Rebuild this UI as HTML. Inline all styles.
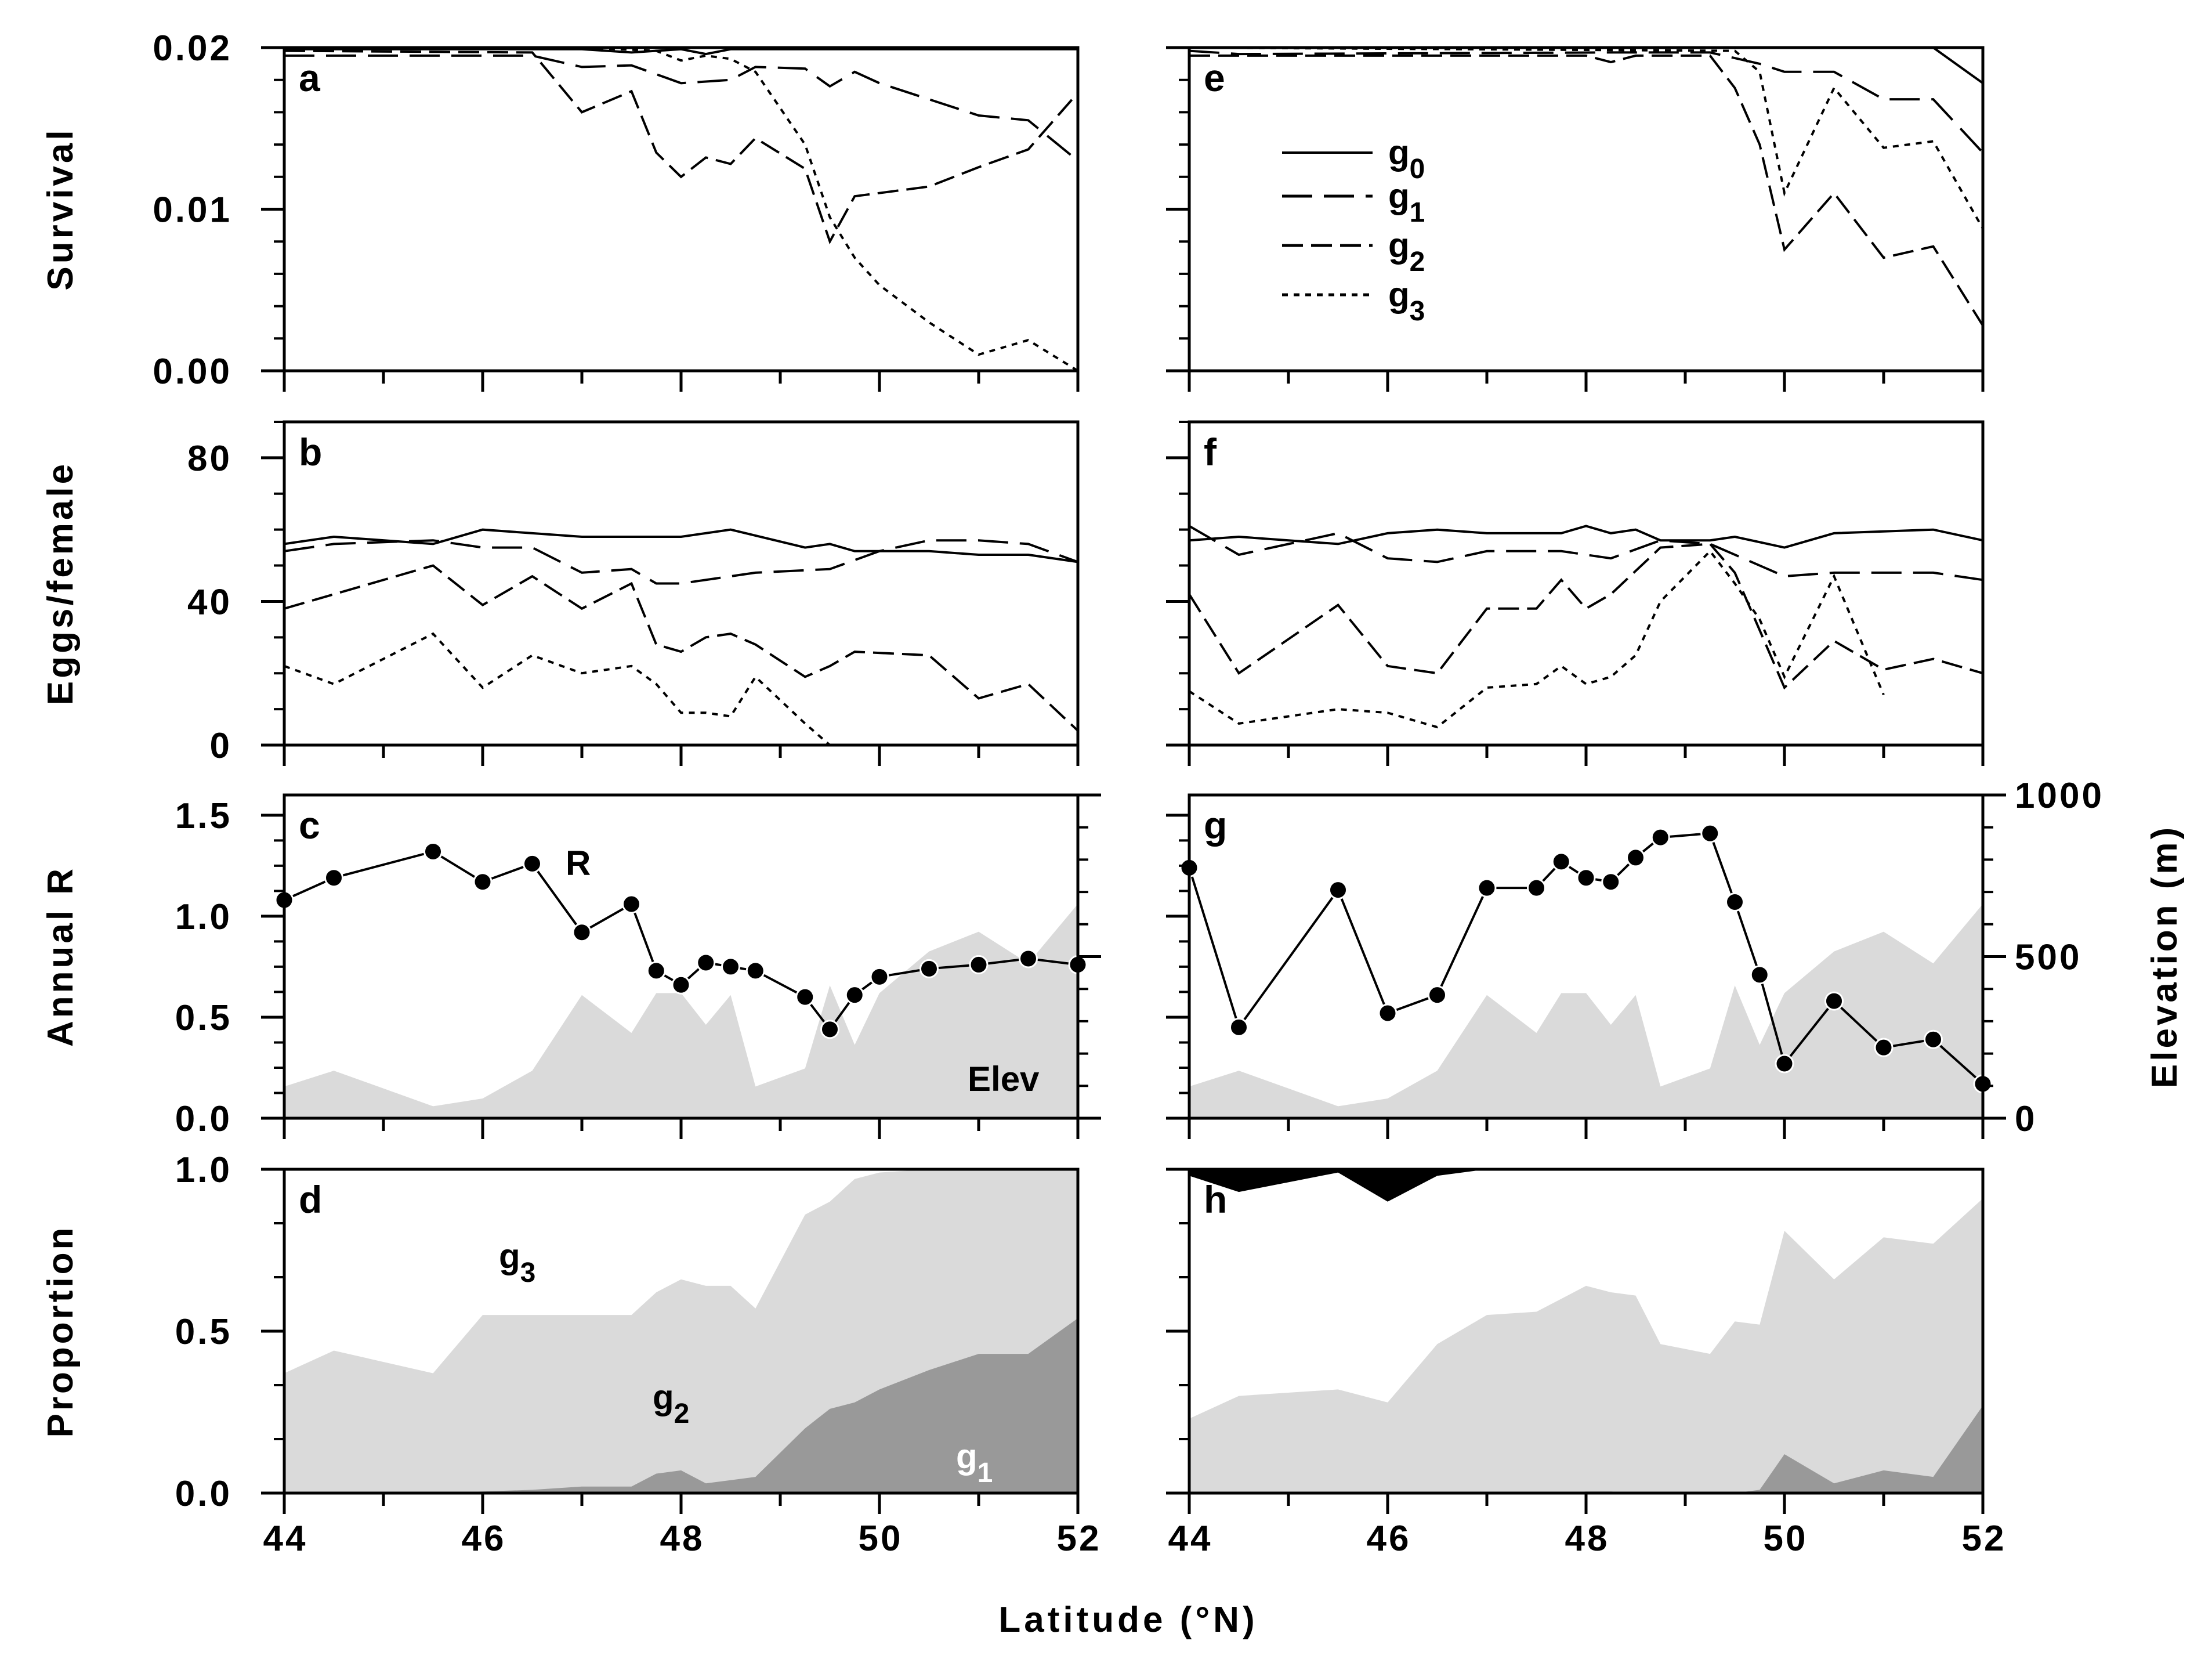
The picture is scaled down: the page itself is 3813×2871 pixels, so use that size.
<!DOCTYPE html>
<html><head><meta charset="utf-8">
<style>
html,body{margin:0;padding:0;background:#fff;}
svg{display:block;font-family:"Liberation Sans",Arial,sans-serif;}
text{font-weight:bold;fill:#000;}
</style></head>
<body>
<svg id="chart" width="3813" height="2871" viewBox="0 0 3813 2871" xmlns="http://www.w3.org/2000/svg">
<rect x="0" y="0" width="3813" height="2871" fill="#fff"/>
<g id="layer"></g>
<text x="1945" y="2812" font-size="62" text-anchor="middle" letter-spacing="6">Latitude (°N)</text>
<text transform="translate(125,360) rotate(-90)" font-size="62" text-anchor="middle" letter-spacing="5">Survival</text>
<text transform="translate(125,1005) rotate(-90)" font-size="62" text-anchor="middle" letter-spacing="5">Eggs/female</text>
<text transform="translate(125,1648) rotate(-90)" font-size="62" text-anchor="middle" letter-spacing="5">Annual R</text>
<text transform="translate(125,2294) rotate(-90)" font-size="62" text-anchor="middle" letter-spacing="5">Proportion</text>
<text transform="translate(3752,1648) rotate(-90)" font-size="62" text-anchor="middle" letter-spacing="5">Elevation (m)</text>
</svg>
<script>
// ---- data ----
const latR = [44,44.5,45.5,46,46.5,47,47.5,47.75,48,48.25,48.5,48.75,49.25,49.5,49.75,50,50.5,51,51.5,52];
const rLeft = [1.08,1.19,1.32,1.17,1.26,0.92,1.06,0.73,0.66,0.77,0.75,0.73,0.60,0.44,0.61,0.70,0.74,0.76,0.79,0.76];
const rRight = [1.24,0.45,1.13,0.52,0.61,1.14,1.14,1.27,1.19,1.17,1.29,1.39,1.41,1.07,0.71,0.27,0.58,0.35,0.39,0.17];
const elevLat = [44,44.5,45.5,46,46.5,47,47.5,47.75,48,48.25,48.5,48.75,49.25,49.5,49.75,50,50.5,51,51.5,52];
const elevM = [98,147,37,61,147,381,264,387,387,289,381,98,154,411,227,387,516,577,479,663];

const survA_g0_lat=[44,47,47.5,48,48.25,48.5,52]; const survA_g0=[0.0199,0.0199,0.0197,0.0199,0.0196,0.0199,0.0199];
const survA_g1_lat=[44,46.5,47,47.5,48,48.5,48.75,49.25,49.5,49.75,50,51,51.5,52]; const survA_g1=[0.0195,0.0195,0.0188,0.0189,0.0178,0.0180,0.0188,0.0187,0.0176,0.0185,0.0178,0.0158,0.0155,0.0130];
const survA_g2_lat=[44,46.5,47,47.5,47.75,48,48.25,48.5,48.75,49.25,49.5,49.75,50.5,51,51.5,52]; const survA_g2=[0.0198,0.0197,0.0160,0.0173,0.0135,0.0120,0.0132,0.0128,0.0144,0.0125,0.0080,0.0108,0.0114,0.0126,0.0137,0.0172];
const survA_g3_lat=[44,47,47.75,48,48.25,48.5,48.75,49.25,49.5,49.75,50,50.5,51,51.5,52]; const survA_g3=[0.0200,0.0200,0.0198,0.0192,0.0195,0.0193,0.0185,0.0140,0.0095,0.0070,0.0053,0.0030,0.0010,0.0019,0.0000];

const survE_g0_lat=[44,51.5,52]; const survE_g0=[0.0200,0.0200,0.0178];
const survE_g1_lat=[44,44.5,48.25,49.25,49.75,50,50.5,51,51.5,52]; const survE_g1=[0.0198,0.0196,0.0197,0.0197,0.0190,0.0185,0.0185,0.0168,0.0168,0.0135];
const survE_g2_lat=[44,48,48.25,48.5,49.25,49.5,49.75,50,50.5,51,51.5,52]; const survE_g2=[0.0195,0.0195,0.0191,0.0195,0.0195,0.0175,0.0140,0.0075,0.0110,0.0070,0.0077,0.0028];
const survE_g3_lat=[44,49.5,49.75,50,50.5,51,51.5,52]; const survE_g3=[0.0200,0.0198,0.0185,0.0110,0.0175,0.0138,0.0142,0.0088];

const eggB_g0_lat=[44,44.5,45.5,46,46.5,47,48,48.5,49.25,49.5,49.75,50,50.5,51,51.5,52]; const eggB_g0=[56,58,56,60,59,58,58,60,55,56,54,54,54,53,53,51];
const eggB_g1_lat=[44,44.5,45.5,46,46.5,47,47.5,47.75,48,48.5,48.75,49.5,50,50.5,51,51.5,52]; const eggB_g1=[54,56,57,55,55,48,49,45,45,47,48,49,54,57,57,56,51];
const eggB_g2_lat=[44,44.5,45.5,46,46.5,47,47.5,47.75,48,48.25,48.5,48.75,49.25,49.5,49.75,50.5,51,51.5,52]; const eggB_g2=[38,42,50,39,47,38,45,28,26,30,31,28,19,22,26,25,13,17,4];
const eggB_g3_lat=[44,44.5,45.5,46,46.5,47,47.5,47.75,48,48.25,48.5,48.75,49.25,49.5]; const eggB_g3=[22,17,31,16,25,20,22,17,9,9,8,19,6,0];

const eggF_g0_lat=[44,44.5,45.5,46,46.5,47,47.75,48,48.25,48.5,48.75,49.25,49.5,50,50.5,51.5,52]; const eggF_g0=[57,58,56,59,60,59,59,61,59,60,57,57,58,55,59,60,57];
const eggF_g1_lat=[44,44.5,45.5,46,46.5,47,47.75,48.25,48.75,49.25,50,50.5,51,51.5,52]; const eggF_g1=[61,53,59,52,51,54,54,52,57,56,47,48,48,48,46];
const eggF_g2_lat=[44,44.5,45.5,46,46.5,47,47.5,47.75,48,48.25,48.75,49.25,49.5,50,50.5,51,51.5,52]; const eggF_g2=[42,20,39,22,20,38,38,46,38,42,55,56,48,16,29,21,24,20];
const eggF_g3_lat=[44,44.5,45.5,46,46.5,47,47.5,47.75,48,48.25,48.5,48.75,49.25,49.5,49.75,50,50.5,51]; const eggF_g3=[15,6,10,9,5,16,17,22,17,19,25,40,54,45,35,19,47,14];

const propLat=[44,44.5,45.5,46,46.5,47,47.5,47.75,48,48.25,48.5,48.75,49.25,49.5,49.75,50,50.5,51,51.5,52];
const propD_g1=[0,0,0,0.005,0.01,0.02,0.02,0.06,0.07,0.03,0.04,0.05,0.2,0.26,0.28,0.32,0.38,0.43,0.43,0.54];
const propD_g2=[0.37,0.44,0.37,0.55,0.55,0.55,0.55,0.62,0.66,0.64,0.64,0.57,0.86,0.9,0.97,0.99,1,1,1,1];
const propD_g3=[1,1,1,1,1,1,1,1,1,1,1,1,1,1,1,1,1,1,1,1];
const propH_g1=[0,0,0,0,0,0,0,0,0.005,0.005,0,0,0,0,0.01,0.12,0.03,0.07,0.05,0.27];
const propH_g2=[0.23,0.30,0.32,0.28,0.46,0.55,0.56,0.60,0.64,0.62,0.61,0.46,0.43,0.53,0.52,0.81,0.66,0.79,0.77,0.91];
const propH_g3=[0.98,0.93,0.99,0.90,0.98,1,1,1,1,1,1,1,1,1,1,1,1,1,1,1];

const xTicks=[44,46,48,50,52];
const survTicks=["0.00","0.01","0.02"], survTickVals=[0,0.01,0.02];
const eggTicks=["0","40","80"], eggTickVals=[0,40,80];
const rTicks=["0.0","0.5","1.0","1.5"], rTickVals=[0,0.5,1,1.5];
const elevTicks=["0","500","1000"], elevTickVals=[0,500,1000];
const propTicks=["0.0","0.5","1.0"], propTickVals=[0,0.5,1];

// ---- layout ----
const NS="http://www.w3.org/2000/svg";
const L=document.getElementById('layer');
const cols=[{x0:490,x1:1858},{x0:2050,x1:3418}];
const rows=[{t:82,b:639,max:0.02},{t:727,b:1284,max:90},{t:1370,b:1927,max:1.6},{t:2015,b:2573,max:1}];
function mk(tag,attrs,parent){const e=document.createElementNS(NS,tag);for(const k in attrs)e.setAttribute(k,attrs[k]);(parent||L).appendChild(e);return e;}
function xs(c,v){return cols[c].x0+(v-44)/8*(cols[c].x1-cols[c].x0);}
function ys(r,v,max){const R=rows[r];return R.b-v/(max||R.max)*(R.b-R.t);}
function pts(c,r,lat,vals,max){return lat.map((l,i)=>xs(c,l).toFixed(1)+','+ys(r,vals[i],max).toFixed(1)).join(' ');}

const dashes=[null,"52,20","36,14","10,10"];
function drawLines(c,r,sets,name){
  sets.forEach((s,i)=>{
    const p=mk('polyline',{points:pts(c,r,s[0],s[1]),fill:'none',stroke:'#000','stroke-width':4});
    if(dashes[i])p.setAttribute('stroke-dasharray',dashes[i]);
    
    
  });
}
function area(c,r,lat,lower,upper,fill,name){
  let d='';
  lat.forEach((l,i)=>{d+=(i?'L':'M')+xs(c,l).toFixed(1)+','+ys(r,upper[i]).toFixed(1);});
  for(let i=lat.length-1;i>=0;i--){d+='L'+xs(c,lat[i]).toFixed(1)+','+ys(r,lower?lower[i]:0).toFixed(1);}
  const p=mk('path',{d:d+'Z',fill:fill,stroke:'none'});
  
  
}
function frame(c,r,name){
  const R=rows[r],C=cols[c];
  const f=mk('rect',{x:C.x0,y:R.t,width:C.x1-C.x0,height:R.b-R.t,fill:'none',stroke:'#000','stroke-width':5});
  
  
  for(let v=44;v<=52;v++){mk('line',{x1:xs(c,v),x2:xs(c,v),y1:R.b,y2:R.b+(v%2?22:36),stroke:'#000','stroke-width':5});}
}
function yAxis(c,r,labels,vals,minorStep,max,right){
  const R=rows[r],C=cols[c];const M=max||R.max;
  const xa=right?C.x1:C.x0;const dir=right?1:-1;
  for(let v=0;v<=M+1e-9;v+=minorStep){const y=ys(r,v,M);mk('line',{x1:xa,x2:xa+dir*18,y1:y,y2:y,stroke:'#000','stroke-width':4});}
  vals.forEach((v,i)=>{const y=ys(r,v,M);mk('line',{x1:xa,x2:xa+dir*40,y1:y,y2:y,stroke:'#000','stroke-width':5});
    if(labels){const t=mk('text',{x:right?xa+55:xa-90,y:y+22,'font-size':62,'text-anchor':right?'start':'end','letter-spacing':4});t.textContent=labels[i];
    
    }});
}
function xLabels(c){xTicks.forEach(v=>{const t=mk('text',{x:xs(c,v)+2,y:2672,'font-size':62,'text-anchor':'middle','letter-spacing':4});t.textContent=v;
  
  });}
function letter(c,r,s){const t=mk('text',{x:cols[c].x0+25,y:rows[r].t+75,'font-size':66,'font-weight':'normal'});t.textContent=s;
  
  }

// proportion areas
area(0,3,propLat,null,propD_g3,'#ffffff','area-g3-d');
area(0,3,propLat,null,propD_g2,'#dadada','area-g2-d');
area(0,3,propLat,null,propD_g1,'#999999','area-g1-d');
area(1,3,propLat,propH_g3,propLat.map(()=>1),'#000000','area-g0-h');
area(1,3,propLat,null,propH_g2,'#dadada','area-g2-h');
area(1,3,propLat,null,propH_g1,'#999999','area-g1-h');
// elevation
[0,1].forEach(c=>{
  let d='';
  elevLat.forEach((l,i)=>{d+=(i?'L':'M')+xs(c,l).toFixed(1)+','+ys(2,elevM[i],1000).toFixed(1);});
  d+='L'+xs(c,52)+','+rows[2].b+'L'+xs(c,44)+','+rows[2].b+'Z';
  const p=mk('path',{d:d,fill:'#dadada'});
  
  
});
drawLines(0,0,[[survA_g0_lat,survA_g0],[survA_g1_lat,survA_g1],[survA_g2_lat,survA_g2],[survA_g3_lat,survA_g3]],'survival-a');
drawLines(1,0,[[survE_g0_lat,survE_g0],[survE_g1_lat,survE_g1],[survE_g2_lat,survE_g2],[survE_g3_lat,survE_g3]],'survival-e');
drawLines(0,1,[[eggB_g0_lat,eggB_g0],[eggB_g1_lat,eggB_g1],[eggB_g2_lat,eggB_g2],[eggB_g3_lat,eggB_g3]],'eggs-b');
drawLines(1,1,[[eggF_g0_lat,eggF_g0],[eggF_g1_lat,eggF_g1],[eggF_g2_lat,eggF_g2],[eggF_g3_lat,eggF_g3]],'eggs-f');
[[0,rLeft],[1,rRight]].forEach(([c,vals])=>{
  const p=mk('polyline',{points:pts(c,2,latR,vals),fill:'none',stroke:'#000','stroke-width':4});
  
  
  latR.forEach((l,i)=>{const d=mk('circle',{cx:xs(c,l),cy:ys(2,vals[i]),r:15,fill:'#000',stroke:'#fff','stroke-width':3});
    
    });
});
const names=[['a','b','c','d'],['e','f','g','h']];
[0,1].forEach(c=>{
  [0,1,2,3].forEach(r=>{frame(c,r,'panel-'+names[c][r]);letter(c,r,names[c][r]);});
  yAxis(c,0,c?null:survTicks,survTickVals,0.002);
  yAxis(c,1,c?null:eggTicks,eggTickVals,10);
  yAxis(c,2,c?null:rTicks,rTickVals,0.125);
  yAxis(c,3,c?null:propTicks,propTickVals,1/6);
  yAxis(c,2,c?elevTicks:null,elevTickVals,100,1000,true);
  xLabels(c);
});
function lab(x,y,s,sub,name,col){const t=mk('text',{x:x,y:y,'font-size':60});t.setAttribute('style','fill:'+(col||'#000'));
  
  
  t.appendChild(document.createTextNode(s));
  if(sub!==null){const ts=mk('tspan',{dy:24,'font-size':48},t);ts.setAttribute('style','fill:'+(col||'#000'));ts.textContent=sub;}}
lab(975,1508,'R',null,'r-label');
lab(1668,1880,'Elev',null,'elev-label');
lab(860,2185,'g','3','g3-area-label');
lab(1125,2428,'g','2','g2-area-label');
lab(1648,2530,'g','1','g1-area-label','#fff');
const legY=[263,338,423,508];
legY.forEach((y,i)=>{
  const l=mk('line',{x1:2210,x2:2366,y1:y,y2:y,stroke:'#000','stroke-width':i==0?4:5});
  if(dashes[i])l.setAttribute('stroke-dasharray',dashes[i]);
  
  
  lab(2393,y+20,'g',String(i),'legend-entry-g'+i);
});
</script>
</body></html>
